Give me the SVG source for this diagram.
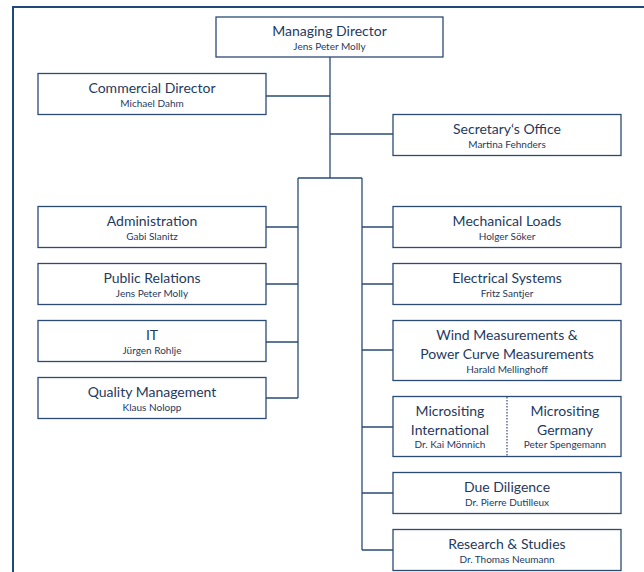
<svg xmlns="http://www.w3.org/2000/svg" width="644" height="572" viewBox="0 0 644 572">
<style>
.box{fill:#fff;stroke:#2b4b74;stroke-width:1.3}
.ln{fill:none;stroke:#2b4b74;stroke-width:1.3}
.t{font-family:Lato,"Open Sans",sans-serif;font-size:14px;fill:#1f3a60;text-anchor:middle}
.s{font-family:Lato,"Open Sans",sans-serif;font-size:10px;fill:#1f3a60;text-anchor:middle}
</style>
<rect width="644" height="572" fill="#fff"/>
<path d="M13,572 V7 H644" fill="none" stroke="#1f497d" stroke-width="2"/>
<g id="connectors">
<path class="ln" d="M330,57 V178"/>
<path class="ln" d="M266,96 H330"/>
<path class="ln" d="M330,134 H393"/>
<path class="ln" d="M298,178 H362"/>
<path class="ln" d="M298,178 V398"/>
<path class="ln" d="M266,227 H298 M266,284 H298 M266,342 H298 M266,398 H298"/>
<path class="ln" d="M362,178 V550"/>
<path class="ln" d="M362,227 H393 M362,284 H393 M362,350 H393 M362,427 H393 M362,493 H393 M362,550 H393"/>
</g>
<g id="managing-director"><rect class="box" x="216" y="17" width="227" height="40"/><text class="t" x="329.5" y="36">Managing Director</text><text class="s" x="329.5" y="50">Jens Peter Molly</text></g>
<g id="commercial-director"><rect class="box" x="38" y="73.5" width="228" height="41"/><text class="t" x="152" y="93">Commercial Director</text><text class="s" x="152" y="107">Michael Dahm</text></g>
<g id="secretary"><rect class="box" x="393" y="114.5" width="228" height="41"/><text class="t" x="507" y="134">Secretary‘s Office</text><text class="s" x="507" y="148">Martina Fehnders</text></g>
<g id="administration"><rect class="box" x="38" y="206.5" width="228" height="41"/><text class="t" x="152" y="226">Administration</text><text class="s" x="152" y="240">Gabi Slanitz</text></g>
<g id="public-relations"><rect class="box" x="38" y="263.5" width="228" height="41"/><text class="t" x="152" y="283">Public Relations</text><text class="s" x="152" y="297">Jens Peter Molly</text></g>
<g id="it"><rect class="box" x="38" y="320.5" width="228" height="41"/><text class="t" x="152" y="340">IT</text><text class="s" x="152" y="354">Jürgen Rohlje</text></g>
<g id="quality"><rect class="box" x="38" y="377.5" width="228" height="41"/><text class="t" x="152" y="397">Quality Management</text><text class="s" x="152" y="411">Klaus Nolopp</text></g>
<g id="mechanical-loads"><rect class="box" x="393" y="206.5" width="228" height="41"/><text class="t" x="507" y="226">Mechanical Loads</text><text class="s" x="507" y="240">Holger Söker</text></g>
<g id="electrical-systems"><rect class="box" x="393" y="263.5" width="228" height="41"/><text class="t" x="507" y="283">Electrical Systems</text><text class="s" x="507" y="297">Fritz Santjer</text></g>
<g id="wind-measurements"><rect class="box" x="393" y="320.5" width="228" height="60"/><text class="t" x="507" y="340">Wind Measurements &amp;</text><text class="t" x="507" y="359">Power Curve Measurements</text><text class="s" x="507" y="373">Harald Mellinghoff</text></g>
<g id="micrositing"><rect class="box" x="393" y="396.5" width="228" height="60"/><path d="M507,397 V456" stroke="#2b4b74" stroke-width="1.2" stroke-dasharray="1.5,1.5"/><text class="t" x="450" y="416">Micrositing</text><text class="t" x="450" y="435">International</text><text class="s" x="450" y="448">Dr. Kai Mönnich</text><text class="t" x="565" y="416">Micrositing</text><text class="t" x="565" y="435">Germany</text><text class="s" x="565" y="448">Peter Spengemann</text></g>
<g id="due-diligence"><rect class="box" x="393" y="472.5" width="228" height="41"/><text class="t" x="507" y="492">Due Diligence</text><text class="s" x="507" y="506">Dr. Pierre Dutilleux</text></g>
<g id="research"><rect class="box" x="393" y="529.5" width="228" height="41"/><text class="t" x="507" y="549">Research &amp; Studies</text><text class="s" x="507" y="563">Dr. Thomas Neumann</text></g>
</svg>
